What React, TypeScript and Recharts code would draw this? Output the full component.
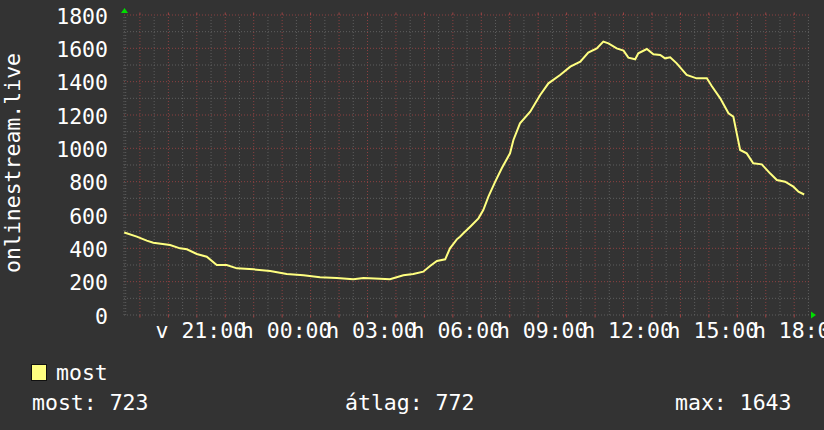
import { LineChart, Line, XAxis, YAxis, ReferenceLine, ReferenceArea, ReferenceDot } from "recharts";

// time in hours counted from Sunday 00:00 (24 = Monday 00:00)
const hours = [
  18.45, 18.89, 19.24, 19.47, 20.06, 20.41, 20.65, 21.0, 21.35, 21.7, 22.05, 22.41, 22.99, 23.58,
  24.16, 24.75, 25.33, 25.92, 26.5, 26.86, 27.44, 27.79, 28.26, 28.61, 28.96, 29.2, 29.44, 29.73,
  29.9, 30.14, 30.25, 30.37, 30.61, 30.9, 31.07, 31.25, 31.49, 31.72, 32.01, 32.13, 32.36, 32.72,
  33.07, 33.36, 33.77, 34.13, 34.48, 34.76, 35.06, 35.29, 35.47, 35.76, 36.0, 36.17, 36.41, 36.52,
  36.82, 37.05, 37.29, 37.46, 37.64, 37.87, 38.22, 38.57, 38.93, 39.1, 39.4, 39.69, 39.86, 39.98,
  40.1, 40.33, 40.56, 40.86, 41.15, 41.39, 41.68, 41.97, 42.15, 42.35,
];
const viewers = [
  495, 470, 446, 434, 420, 400, 394, 366, 350, 300, 300, 280, 274, 264,
  246, 238, 226, 222, 214, 222, 218, 214, 238, 246, 260, 294, 324, 334,
  400, 454, 470, 490, 530, 580, 630, 710, 800, 880, 970, 1050, 1150, 1220,
  1320, 1390, 1440, 1490, 1520, 1574, 1600, 1640, 1630, 1600, 1586, 1544, 1534, 1570,
  1596, 1564, 1560, 1540, 1546, 1510, 1440, 1420, 1420, 1374, 1300, 1210, 1190, 1090,
  990, 970, 910, 904, 850, 810, 800, 770, 740, 723,
];
const xTicks = [21, 24, 27, 30, 33, 36, 39, 42];
const yTicks = [0, 200, 400, 600, 800, 1000, 1200, 1400, 1600, 1800];
const seriesName = "most";
const statLabels = ["most: 723", "átlag: 772", "max: 1643"];
const axisTitle = "onlinestream.live";

const data = hours.map((t, i) => ({ t, v: viewers[i] }));
const xDomain = [18.44, 42.52];

const minorX: number[] = [];
const majorX: number[] = [];
for (let h = 18.5; h <= 42.5; h += 0.5) (Number.isInteger(h) ? majorX : minorX).push(h);
const minorY: number[] = [];
const majorY: number[] = [];
for (let v = 100; v <= 1800; v += 100) (v % 200 === 0 ? majorY : minorY).push(v);

const FONT = "'DejaVu Sans Mono', monospace";
const FS = 21.5;
const MINOR = "#5e5e5e";
const MAJOR = "#8c4040";

function fmtTime(t: number) {
  const day = t < 24 ? "v" : "h";
  return `${day} ${String(t % 24).padStart(2, "0")}:00`;
}

export default function App() {
  return (
    <div style={{ position: "relative", width: 824, height: 430, background: "#333333", fontFamily: FONT }}>
      <style>{"body{margin:0}"}</style>
      <LineChart width={824} height={430} data={data} margin={{ top: 15, right: 15, left: 0, bottom: 0 }}>
        <XAxis
          type="number"
          dataKey="t"
          domain={xDomain}
          ticks={xTicks}
          interval={0}
          allowDataOverflow
          height={115}
          axisLine={false}
          tickLine={false}
          tickSize={0}
          tickMargin={8}
          tick={{ fill: "#ffffff", fontSize: FS, fontFamily: FONT, dx: 4 }}
          tickFormatter={fmtTime}
        />
        <YAxis
          domain={[0, 1800]}
          ticks={yTicks}
          interval={0}
          width={124}
          axisLine={false}
          tickLine={false}
          tickSize={0}
          tickMargin={16}
          tick={{ fill: "#ffffff", fontSize: FS, fontFamily: FONT, dy: 1 }}
        />
        <ReferenceArea fill="#222222" fillOpacity={1} stroke="none" ifOverflow="visible" />
        {minorX.map((x) => (
          <ReferenceLine key={"mx" + x} x={x} stroke={MINOR} strokeDasharray="1 2" />
        ))}
        {minorY.map((y) => (
          <ReferenceLine key={"my" + y} y={y} stroke={MINOR} strokeDasharray="1 2" />
        ))}
        {majorX.map((x) => (
          <ReferenceLine key={"Mx" + x} x={x} stroke={MAJOR} strokeDasharray="1 2" />
        ))}
        {majorY.map((y) => (
          <ReferenceLine key={"My" + y} y={y} stroke={MAJOR} strokeDasharray="1 2" />
        ))}
        {/* little hour ticks just outside the plot, top and bottom */}
        {majorX.map((x) => (
          <ReferenceLine
            key={"tb" + x}
            segment={[{ x, y: 0 }, { x, y: -15 }]}
            stroke="#a04545"
            ifOverflow="visible"
          />
        ))}
        {majorX.map((x) => (
          <ReferenceLine
            key={"tt" + x}
            segment={[{ x, y: 1800 }, { x, y: 1815 }]}
            stroke="#a04545"
            ifOverflow="visible"
          />
        ))}
        <ReferenceLine x={xDomain[0]} stroke={MINOR} strokeDasharray="1 2" />
        <ReferenceLine y={0} stroke={MINOR} strokeDasharray="1 2" />
        <Line
          type="linear"
          dataKey="v"
          stroke="#ffff80"
          strokeWidth={2}
          dot={false}
          isAnimationActive={false}
        />
        <ReferenceDot
          x={xDomain[0]}
          y={1800}
          ifOverflow="visible"
          shape={(p: any) => (
            <polygon
              points={`${p.cx + 0.5},${p.cy - 7} ${p.cx - 3},${p.cy - 2} ${p.cx + 4},${p.cy - 2}`}
              fill="#00dd00"
            />
          )}
        />
        <ReferenceDot
          x={xDomain[1]}
          y={0}
          ifOverflow="visible"
          shape={(p: any) => (
            <polygon
              points={`${p.cx + 7},${p.cy} ${p.cx + 2},${p.cy - 3.5} ${p.cx + 2},${p.cy + 3.5}`}
              fill="#00dd00"
            />
          )}
        />
      </LineChart>
      <svg
        width={824}
        height={430}
        style={{ position: "absolute", left: 0, top: 0, pointerEvents: "none" }}
        fontFamily={FONT}
        fontSize={FS}
        fill="#ffffff"
      >
        <text transform="translate(20,163) rotate(-90)" textAnchor="middle">
          {axisTitle}
        </text>
        <rect x={31.5} y={364.5} width={15} height={16} fill="#ffff80" stroke="#111111" strokeWidth={1} />
        <text x={56} y={380}>{seriesName}</text>
        <text x={32} y={410}>{statLabels[0]}</text>
        <text x={345} y={410}>{statLabels[1]}</text>
        <text x={675} y={410}>{statLabels[2]}</text>
      </svg>
    </div>
  );
}
